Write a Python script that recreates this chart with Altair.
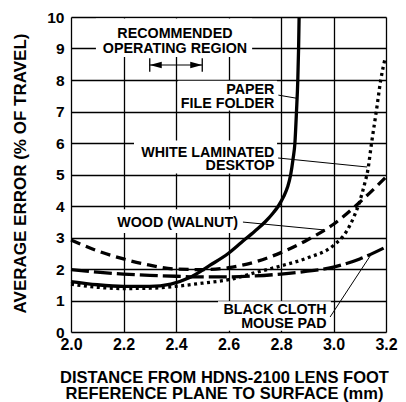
import altair as alt
import pandas as pd

FONT = "Liberation Sans"

x_ticks = [2.0, 2.2, 2.4, 2.6, 2.8, 3.0, 3.2]
y_ticks = [0, 1, 2, 3, 4, 5, 6, 7, 8, 9, 10]

# PAPER FILE FOLDER (solid)
paper_x = [2.0, 2.1, 2.2, 2.3, 2.38, 2.45, 2.53, 2.6, 2.65, 2.7, 2.74, 2.77, 2.79,
           2.81, 2.825, 2.837, 2.846, 2.853, 2.859, 2.864, 2.867, 2.869]
paper_y = [1.60, 1.50, 1.45, 1.45, 1.52, 1.72, 2.12, 2.50, 2.85, 3.20, 3.50, 3.78, 4.0,
           4.3, 4.6, 5.0, 5.5, 6.0, 7.0, 8.0, 9.0, 10.0]

# WHITE LAMINATED DESKTOP (dotted)
white_x = [2.0, 2.1, 2.2, 2.3, 2.4, 2.5, 2.6, 2.7, 2.8, 2.9, 3.0, 3.05, 3.08, 3.1,
           3.12, 3.13, 3.145, 3.163, 3.18, 3.197]
white_y = [1.52, 1.42, 1.38, 1.39, 1.45, 1.55, 1.66, 1.88, 2.10, 2.35, 2.75, 3.2, 3.7,
           4.15, 4.75, 5.1, 6.0, 7.0, 8.0, 8.7]

# WOOD (WALNUT) (short dash)
wood_x = [2.0, 2.1, 2.2, 2.3, 2.4, 2.5, 2.6, 2.7, 2.8, 2.9, 3.0, 3.1, 3.2]
wood_y = [2.92, 2.58, 2.32, 2.12, 2.00, 1.98, 2.04, 2.22, 2.52, 2.92, 3.42, 4.12, 4.92]

# BLACK CLOTH MOUSE PAD (long dash)
cloth_x = [2.0, 2.1, 2.2, 2.3, 2.4, 2.5, 2.6, 2.7, 2.8, 2.9, 3.0, 3.1, 3.2]
cloth_y = [1.98, 1.90, 1.84, 1.80, 1.77, 1.75, 1.75, 1.78, 1.84, 1.93, 2.06, 2.32, 2.70]

# annotation texts
center_text = ["RECOMMENDED", "OPERATING REGION", "WOOD (WALNUT)"]
center_x = [2.396, 2.396, 2.406]
center_y = [9.325, 8.848, 3.33]

right_text = ["PAPER", "FILE FOLDER", "WHITE LAMINATED", "DESKTOP", "BLACK CLOTH", "MOUSE PAD"]
right_x = [2.775, 2.775, 2.775, 2.775, 2.974, 2.974]
right_y = [7.556, 7.12, 5.54, 5.127, 0.571, 0.12]

# white label backgrounds (mask the grid)
mask_x1 = [2.095, 2.408, 2.24, 2.16, 2.56]
mask_x2 = [2.69, 2.785, 2.785, 2.651, 2.99]
mask_y1 = [8.73, 7.03, 5.03, 3.14, 0.04]
mask_y2 = [9.95, 7.98, 6.08, 3.90, 0.98]

# leader lines
lead_x1 = [2.79, 2.789, 2.655, 2.987]
lead_y1 = [7.52, 5.524, 3.49, 0.476]
lead_x2 = [2.86, 3.128, 2.968, 3.147]
lead_y2 = [7.42, 5.238, 3.238, 2.508]

# recommended operating region arrow
region_x = [2.3, 2.5]
region_y = 8.476
bar_y1 = 8.26
bar_y2 = 8.69

xs = alt.Scale(domain=[2.0, 3.2], nice=False, zero=False)
ys = alt.Scale(domain=[0, 10], nice=False, zero=True)

X_AX = alt.Axis(values=x_ticks, format=".1f", grid=True, ticks=False, domain=False,
                labelFont=FONT, labelFontSize=16, labelFontWeight="bold",
                labelColor="black", labelPadding=4, labelOverlap=False,
                gridColor="black", gridWidth=1.3,
                title=["DISTANCE FROM HDNS-2100 LENS FOOT",
                       "REFERENCE PLANE TO SURFACE (mm)"],
                titleFont=FONT, titleFontSize=16.5, titleFontWeight="bold",
                titleColor="black", titleX=153, titleY=50.3,
                titleBaseline="alphabetic", titleAlign="center", titleLineHeight=16,
                labelFlush=False)
Y_AX = alt.Axis(values=y_ticks, format="d", grid=True, ticks=False, domain=False,
                labelFont=FONT, labelFontSize=15.5, labelFontWeight="bold",
                labelColor="black", labelPadding=7, labelOverlap=False,
                gridColor="black", gridWidth=1.3,
                title="AVERAGE ERROR (% OF TRAVEL)",
                titleFont=FONT, titleFontSize=17, titleFontWeight="bold",
                titleColor="black", titleX=-46, titleY=156, titleAngle=270,
                titleBaseline="alphabetic", titleAlign="center",
                labelFlush=False)


def X(f):
    return alt.X(f, scale=xs, axis=X_AX)


def Y(f):
    return alt.Y(f, scale=ys, axis=Y_AX)


def curve(xv, yv, dash, width):
    df = pd.DataFrame({"x": xv, "y": yv, "o": list(range(len(xv)))})
    kw = dict(color="black", strokeWidth=width, interpolate="monotone", strokeCap="butt")
    if dash:
        kw["strokeDash"] = dash
    return alt.Chart(df).mark_line(**kw).encode(x=X("x:Q"), y=Y("y:Q"), order="o:Q")


masks = alt.Chart(pd.DataFrame({"x1": mask_x1, "x2": mask_x2, "y1": mask_y1, "y2": mask_y2})
                  ).mark_rect(fill="white").encode(
    x=X("x1:Q"), x2="x2:Q", y=Y("y1:Q"), y2="y2:Q")

lines = [
    curve(paper_x, paper_y, None, 3.3),
    curve(white_x, white_y, [3, 3.5], 3.3),
    curve(wood_x, wood_y, [10, 6], 3.3),
    curve(cloth_x, cloth_y, [18, 5], 3.3),
]

leaders = alt.Chart(pd.DataFrame({"x1": lead_x1, "y1": lead_y1, "x2": lead_x2, "y2": lead_y2})
                    ).mark_rule(color="black", strokeWidth=1).encode(
    x=X("x1:Q"), y=Y("y1:Q"), x2="x2:Q", y2="y2:Q")

arrow_line = alt.Chart(pd.DataFrame({"x1": [region_x[0]], "x2": [region_x[1]], "y": [region_y]})
                       ).mark_rule(color="black", strokeWidth=1.2).encode(
    x=X("x1:Q"), x2="x2:Q", y=Y("y:Q"))

arrow_bars = alt.Chart(pd.DataFrame({"x": region_x, "y1": [bar_y1] * 2, "y2": [bar_y2] * 2})
                       ).mark_rule(color="black", strokeWidth=1.3).encode(
    x=X("x:Q"), y=Y("y1:Q"), y2="y2:Q")

head_left = alt.Chart(pd.DataFrame({"x": [region_x[0]], "y": [region_y]})).mark_point(
    shape="M-1,0L1,-0.55L1,0.55Z", size=144, filled=True, color="black", opacity=1,
    xOffset=6).encode(x=X("x:Q"), y=Y("y:Q"))

head_right = alt.Chart(pd.DataFrame({"x": [region_x[1]], "y": [region_y]})).mark_point(
    shape="M1,0L-1,-0.55L-1,0.55Z", size=144, filled=True, color="black", opacity=1,
    xOffset=-6).encode(x=X("x:Q"), y=Y("y:Q"))

txt_c = alt.Chart(pd.DataFrame({"t": center_text, "x": center_x, "y": center_y})).mark_text(
    font=FONT, fontSize=14.3, fontWeight="bold", color="black", align="center",
    baseline="alphabetic").encode(x=X("x:Q"), y=Y("y:Q"), text="t:N")

txt_r = alt.Chart(pd.DataFrame({"t": right_text, "x": right_x, "y": right_y})).mark_text(
    font=FONT, fontSize=14.3, fontWeight="bold", color="black", align="right",
    baseline="alphabetic").encode(x=X("x:Q"), y=Y("y:Q"), text="t:N")

chart = alt.layer(
    masks, *lines, leaders, arrow_line, arrow_bars, head_left, head_right, txt_c, txt_r
).properties(
    width=315, height=315,
    autosize=alt.AutoSizeParams(type="none"),
    padding={"left": 63, "top": 9, "right": 12, "bottom": 70},
).configure_view(
    stroke="black", strokeWidth=2
).configure(background="white")

chart.save("out.html", embed_options={"renderer": "svg", "actions": False})
